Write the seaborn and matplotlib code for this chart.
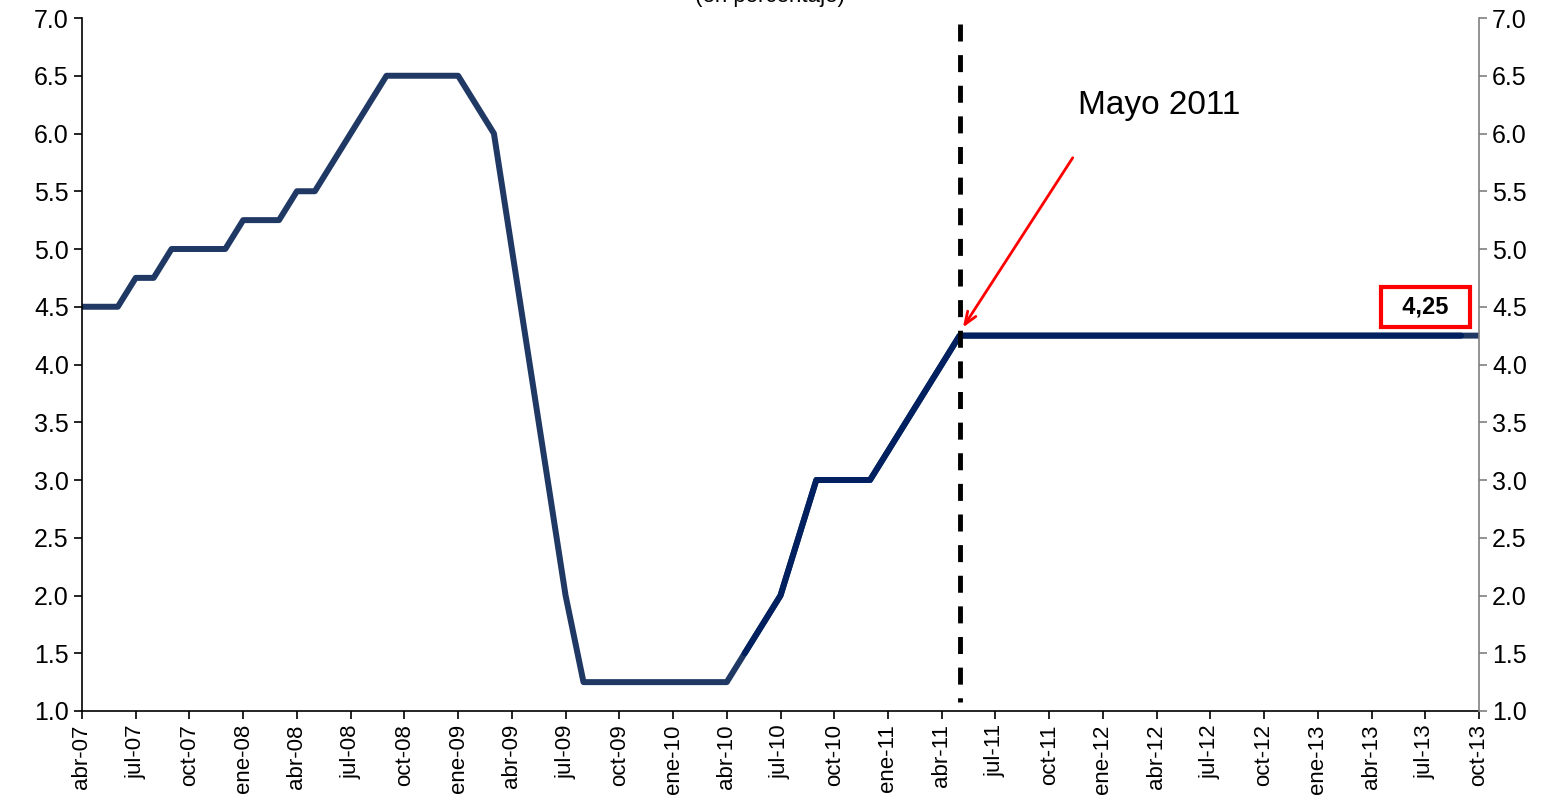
import numpy as np
import pandas as pd
import seaborn as sns
import matplotlib.pyplot as plt

# Tasa de referencia mensual (abr-07 a oct-13)
meses = ['ene', 'feb', 'mar', 'abr', 'may', 'jun', 'jul', 'ago', 'sep', 'oct', 'nov', 'dic']
tasa = [
    # 2007 (abr-dic)
    4.5, 4.5, 4.5, 4.75, 4.75, 5.0, 5.0, 5.0, 5.0,
    # 2008
    5.25, 5.25, 5.25, 5.5, 5.5, 5.75, 6.0, 6.25, 6.5, 6.5, 6.5, 6.5,
    # 2009
    6.5, 6.25, 6.0, 5.0, 4.0, 3.0, 2.0, 1.25, 1.25, 1.25, 1.25, 1.25,
    # 2010
    1.25, 1.25, 1.25, 1.25, 1.5, 1.75, 2.0, 2.5, 3.0, 3.0, 3.0, 3.0,
    # 2011
    3.25, 3.5, 3.75, 4.0, 4.25, 4.25, 4.25, 4.25, 4.25, 4.25, 4.25, 4.25,
    # 2012
    4.25, 4.25, 4.25, 4.25, 4.25, 4.25, 4.25, 4.25, 4.25, 4.25, 4.25, 4.25,
    # 2013 (ene-oct)
    4.25, 4.25, 4.25, 4.25, 4.25, 4.25, 4.25, 4.25, 4.25, 4.25,
]
fechas = pd.date_range('2007-04-01', periods=len(tasa), freq='MS')
etiquetas = [f"{meses[f.month - 1]}-{f.strftime('%y')}" for f in fechas]

df = pd.DataFrame({'t': np.arange(len(tasa)), 'tasa': tasa, 'mes': etiquetas})
inicio_alza = etiquetas.index('may-10')
fin_alza = etiquetas.index('sep-13')
df2 = df.iloc[inicio_alza:fin_alza + 1]
mes_corte = etiquetas.index('may-11')
ultimo_valor = '4,25'

sns.set_style('white')
plt.rcParams['font.family'] = ['Liberation Sans', 'DejaVu Sans']
plt.rcParams['text.color'] = 'black'
plt.rcParams['xtick.labelcolor'] = 'black'
plt.rcParams['ytick.labelcolor'] = 'black'

fig = plt.figure(figsize=(15.56, 8), dpi=100)
ax = fig.add_axes([82 / 1556, 1 - 711 / 800, (1479 - 82) / 1556, (711 - 18) / 800])

sns.lineplot(data=df, x='t', y='tasa', ax=ax, color='#1F3864', linewidth=4.3)
sns.lineplot(data=df2, x='t', y='tasa', ax=ax, color='#002060', linewidth=4.3)

# linea vertical de corte (mayo 2011)
ax.plot([mes_corte, mes_corte], [6.95, 1.08], color='black', linewidth=3.5,
        linestyle=(0, (3.5, 2.8)), solid_capstyle='butt')

ax.annotate('', xy=(mes_corte + 0.1, 4.3), xytext=(55.4, 5.81),
            arrowprops=dict(arrowstyle='->,head_length=0.9,head_width=0.35',
                            color='red', lw=2))
ax.text(55.6, 6.24, 'Mayo 2011', fontsize=24, ha='left', va='center')
ax.text(75.0, 4.5, '  ' + ultimo_valor + '  ', fontsize=17, fontweight='bold',
        ha='center', va='center',
        bbox=dict(boxstyle='square,pad=0.35', facecolor='white', edgecolor='red', linewidth=3))

fig.text(770 / 1556, 1 - 2 / 800, '(en porcentaje)', fontsize=16, ha='center', va='baseline')

ax.set_xlim(0, len(tasa) - 1)
ax.set_ylim(1.0, 7.0)
ax.set_xticks(df['t'][::3])
ax.set_xticklabels(df['mes'][::3], rotation=90, fontsize=16)
yt = np.arange(1.0, 7.01, 0.5)
ax.set_yticks(yt)
ax.set_yticklabels([f'{v:.1f}' for v in yt], fontsize=18)
ax.set_xlabel('')
ax.set_ylabel('')
ax.tick_params(axis='both', direction='out', length=6, width=1.2, color='black', left=True, bottom=True)
for s in ['top', 'right']:
    ax.spines[s].set_visible(False)
for s in ['left', 'bottom']:
    ax.spines[s].set_color('black')
    ax.spines[s].set_linewidth(1.2)

ax2 = ax.twinx()
ax2.set_ylim(1.0, 7.0)
ax2.set_yticks(yt)
ax2.set_yticklabels([f'{v:.1f}' for v in yt], fontsize=18)
ax2.tick_params(axis='y', direction='out', length=6, width=1.2, color='#808080', right=True)
for s in ['top', 'left', 'bottom']:
    ax2.spines[s].set_visible(False)
ax2.spines['right'].set_color('#808080')
ax2.spines['right'].set_linewidth(1.2)
ax2.grid(False)

fig.savefig('out.png', dpi=100)
